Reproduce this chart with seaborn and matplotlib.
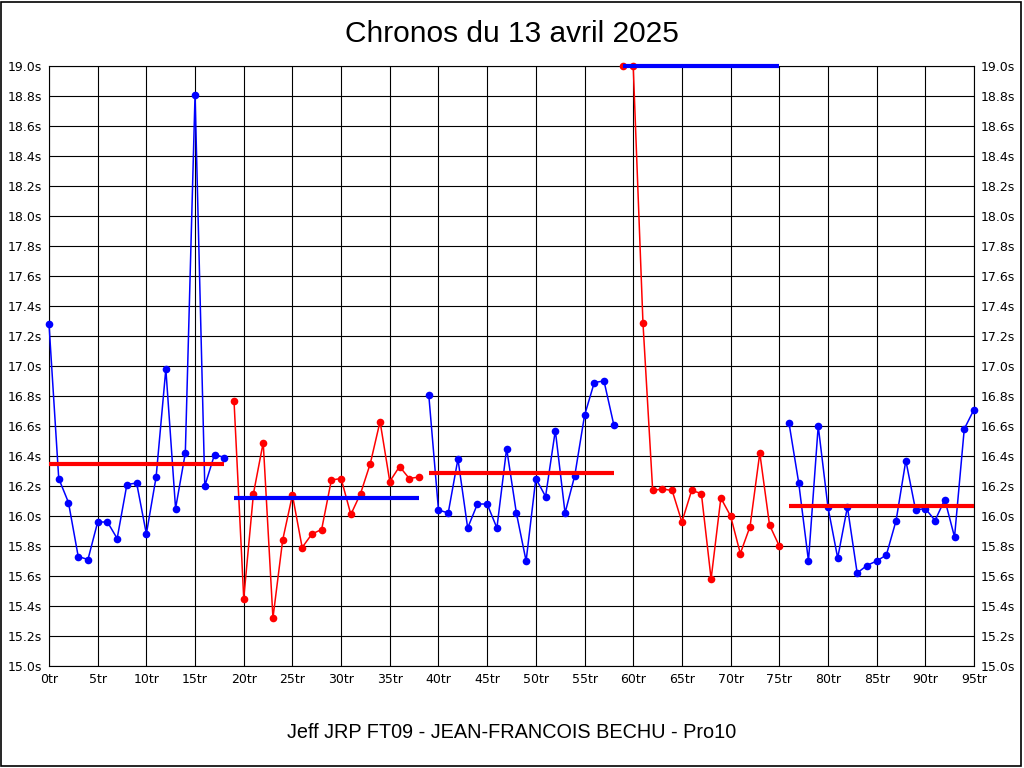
import numpy as np
import pandas as pd
import seaborn as sns
import matplotlib.pyplot as plt
from matplotlib.patches import Rectangle

# lap times (laps 59-60 are off the scale, shown at 19.0)
seg1_times = [17.28, 16.25, 16.09, 15.73, 15.71, 15.96, 15.96, 15.85, 16.21, 16.22,
              15.88, 16.26, 16.98, 16.05, 16.42, 18.81, 16.20, 16.41, 16.39]
seg2_times = [16.77, 15.45, 16.15, 16.49, 15.32, 15.84, 16.14, 15.79, 15.88, 15.91,
              16.24, 16.25, 16.01, 16.15, 16.35, 16.63, 16.23, 16.33, 16.25, 16.26]
seg3_times = [16.81, 16.04, 16.02, 16.38, 15.92, 16.08, 16.08, 15.92, 16.45, 16.02,
              15.70, 16.25, 16.13, 16.57, 16.02, 16.27, 16.67, 16.89, 16.90, 16.61]
seg4_times = [19.00, 19.00, 17.29, 16.17, 16.18, 16.17, 15.96, 16.17, 16.15, 15.58,
              16.12, 16.00, 15.75, 15.93, 16.42, 15.94, 15.80]
seg5_times = [16.62, 16.22, 15.70, 16.60, 16.06, 15.72, 16.06, 15.62, 15.67, 15.70,
              15.74, 15.97, 16.37, 16.04, 16.05, 15.97, 16.11, 15.86, 16.58, 16.71]

segments = [seg1_times, seg2_times, seg3_times, seg4_times, seg5_times]
seg_averages = [16.35, 16.12, 16.29, 19.00, 16.07]
seg_colors = ["#0000ff", "#ff0000", "#0000ff", "#ff0000", "#0000ff"]
avg_colors = ["#ff0000", "#0000ff", "#ff0000", "#0000ff", "#ff0000"]

x_ticks = list(range(0, 96, 5))
y_ticks = [round(15.0 + 0.2 * i, 1) for i in range(21)]

title = "Chronos du 13 avril 2025"
footer = "Jeff JRP FT09 - JEAN-FRANCOIS BECHU - Pro10"

# build long table
rows = []
lap = 0
for s, times in enumerate(segments):
    for t in times:
        rows.append({"lap": lap, "time": t, "segment": s})
        lap += 1
df = pd.DataFrame(rows)

sns.set_style("white")
plt.rcParams["font.family"] = ["DejaVu Sans"]
plt.rcParams["text.color"] = "black"

fig = plt.figure(figsize=(10.24, 7.68), dpi=100)
ax = fig.add_axes([49 / 1024, 1 - 666 / 768, 925 / 1024, 600 / 768])

sns.lineplot(data=df, x="lap", y="time", hue="segment", palette=seg_colors,
             marker="o", markersize=5.5, markeredgewidth=0, linewidth=1.1,
             legend=False, ax=ax, clip_on=False, zorder=3)

# segment averages
for s, times in enumerate(segments):
    seg = df[df["segment"] == s]
    ax.hlines(seg_averages[s], seg["lap"].min(), seg["lap"].max(),
              color=avg_colors[s], linewidth=3, zorder=4, clip_on=False)

ax.set_xlim(0, 95)
ax.set_ylim(15.0, 19.0)
ax.set_xticks(x_ticks)
ax.set_xticklabels([f"{t}tr" for t in x_ticks])
ax.set_yticks(y_ticks)
ax.set_yticklabels([f"{t:.1f}s" for t in y_ticks])
ax.tick_params(axis="both", length=0, labelsize=9, colors="black", pad=5)
ax.tick_params(axis="y", labelright=True)
ax.grid(True, color="black", linewidth=0.8)
ax.set_axisbelow(True)
for sp in ax.spines.values():
    sp.set_color("black")
    sp.set_linewidth(0.8)
ax.set_xlabel("")
ax.set_ylabel("")

fig.text(0.5, 1 - 34 / 768, title, ha="center", va="center", fontsize=21.5,
         family="Liberation Sans", color="black")
fig.text(0.5, 1 - 733 / 768, footer, ha="center", va="center", fontsize=14.3,
         family="Liberation Sans", color="black")

fig.patches.append(Rectangle((0.001, 0.002), 0.996, 0.995, transform=fig.transFigure,
                             fill=False, edgecolor="black", linewidth=1.2))

fig.savefig("out.png", dpi=100, facecolor="white")
